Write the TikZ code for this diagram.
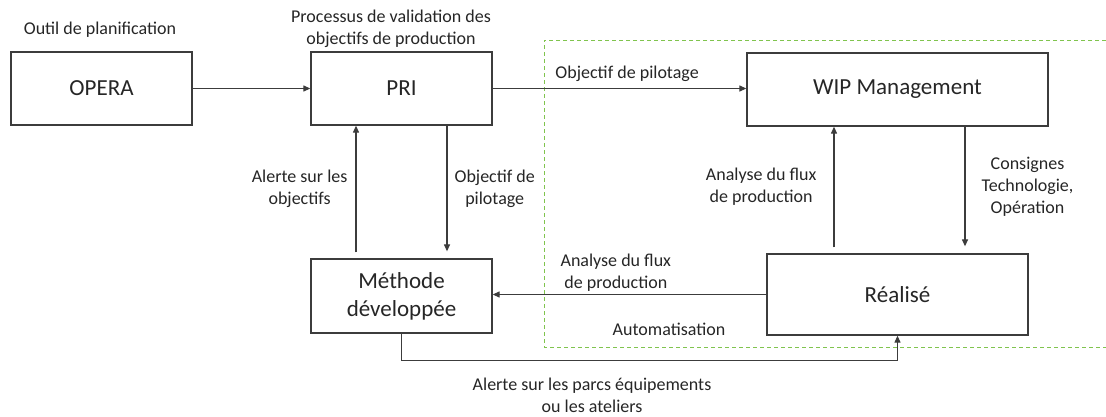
\documentclass[tikz,border=0pt]{standalone}
\usepackage{fontspec}
\setmainfont{Carlito}
\usepackage{xcolor}
\usetikzlibrary{arrows.meta}
\definecolor{vert}{RGB}{128,196,78}
\definecolor{trait}{RGB}{60,60,60}
\tikzset{
bloc/.style={draw=trait,line width=1.3pt,minimum width=181pt,minimum height=73pt,inner sep=0pt,align=center,font=\fontsize{23}{28}\selectfont,text=black!85},
texte/.style={align=center,inner sep=2pt,font=\fontsize{18}{22}\selectfont,text=black!85},
fleche/.style={draw=trait,line width=1.2pt,-{Triangle[length=7pt,width=6pt]}},
cadre/.style={draw=vert,line width=1pt,dash pattern=on 4pt off 3pt}
}
\begin{document}
\begin{tikzpicture}[x=1pt,y=-1pt]
\useasboundingbox[fill=white](0,0)rectangle(1106,416);
\draw[cadre](1106,40)-|(544,347)--(1106,347);
\node[bloc](opera)at(101.5,88.5){OPERA};
\node[bloc](pri)at(401.5,88.5){PRI};
\node[bloc,minimum width=301pt](wip)at(897.5,89.5){WIP Management};
\node[bloc,minimum height=74pt](methode)at(401.5,296){Méthode\\développée};
\node[bloc,minimum width=261pt,minimum height=81pt](realise)at(897.5,294.5){Réalisé};
\node[texte](outil)at(100,30){Outil de planification};
\node[texte](processus)at(391,29){Processus de validation des\\objectifs de production};
\draw[fleche](opera)--(pri);
\draw[fleche](pri.east)--(pri.east-|wip.west)node[texte,pos=.53,above=4pt]{Objectif de pilotage};
\draw[fleche]([xshift=-45.5pt,yshift=6pt]methode.north)--([xshift=-45.5pt]pri.south)
node[texte,midway,left=6pt]{Alerte sur les\\objectifs};
\draw[fleche]([xshift=45.5pt]pri.south)--([xshift=45.5pt,yshift=7pt]methode.north)
node[texte,midway,right=5pt]{Objectif de\\pilotage};
\draw[fleche]([xshift=-63.5pt,yshift=6pt]realise.north)--([xshift=-63.5pt]wip.south)
node[texte,midway,left=15pt]{Analyse du flux\\de production};
\draw[fleche]([xshift=67.5pt]wip.south)--([xshift=67.5pt,yshift=7pt]realise.north)
node[texte,midway,right=14pt]{Consignes\\Technologie,\\Opération};
\draw[fleche](realise.west)--(realise.west-|methode.east)
node[texte,pos=.55,above=1pt]{Analyse du flux\\de production};
\node[texte](auto)at(669,329){Automatisation};
\draw[fleche](methode.south)--++(0,27)coordinate(coude)-|(realise.south);
\node[texte](alerte)at(592,395){Alerte sur les parcs équipements\\ou les ateliers};
\end{tikzpicture}
\end{document}
